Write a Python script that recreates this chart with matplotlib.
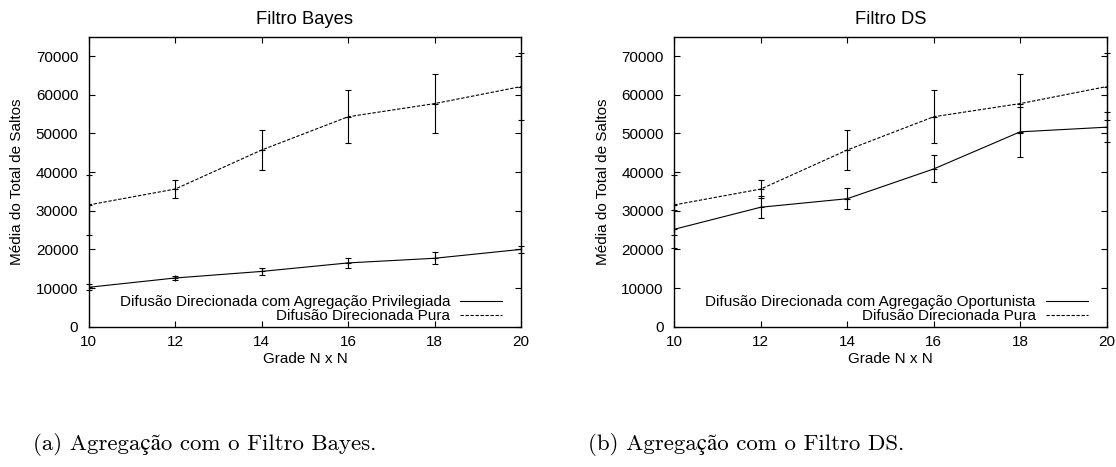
import matplotlib
matplotlib.use('Agg')
import matplotlib.pyplot as plt
from matplotlib.lines import Line2D

plt.rcParams['font.family'] = ['Liberation Sans', 'DejaVu Sans']
plt.rcParams['font.size'] = 11

# Dados
grade = [10, 12, 14, 16, 18, 20]

pura = [31500, 35600, 45700, 54300, 57700, 62100]
pura_err = [7800, 2400, 5300, 6800, 7600, 8600]

privilegiada = [10200, 12600, 14300, 16500, 17700, 20000]
privilegiada_err = [800, 600, 850, 1200, 1600, 900]

oportunista = [25200, 30900, 33100, 40800, 50400, 51600]
oportunista_err = [4900, 2800, 2650, 3500, 6400, 3900]

titles = ['Filtro Bayes', 'Filtro DS']
solid_labels = ['Difusão Direcionada com Agregação Privilegiada',
                'Difusão Direcionada com Agregação Oportunista']
pura_label = 'Difusão Direcionada Pura'
captions = ['(a) Agregação com o Filtro Bayes.', '(b) Agregação com o Filtro DS.']

fig = plt.figure(figsize=(11.16, 4.67), dpi=100)
ax1 = fig.add_axes([0.0795, 0.3004, 0.3874, 0.621])
ax2 = fig.add_axes([0.6042, 0.3004, 0.3874, 0.621])

dash = (0, (3, 1.5))
lw = 0.8

for ax, title, solid, solid_err, lab in [
        (ax1, titles[0], privilegiada, privilegiada_err, solid_labels[0]),
        (ax2, titles[1], oportunista, oportunista_err, solid_labels[1])]:
    e1 = ax.errorbar(grade, solid, yerr=solid_err, color='black', lw=lw,
                     elinewidth=lw, capsize=2.5, capthick=lw,
                     marker='+', ms=4, mew=lw)
    e2 = ax.errorbar(grade, pura, yerr=pura_err, color='black', lw=lw,
                     elinewidth=lw, capsize=2.5, capthick=lw,
                     marker='+', ms=4, mew=lw)
    e2.lines[0].set_linestyle(dash)
    for e in (e1, e2):
        for a in e.lines[1]:
            a.set_clip_on(False)
        for a in e.lines[2]:
            a.set_clip_on(False)

    ax.set_xlim(10, 20)
    ax.set_ylim(0, 75000)
    ax.set_xticks(grade)
    ax.set_yticks(range(0, 70001, 10000))
    ax.tick_params(direction='in', length=4, width=0.8, top=True, right=True)
    ax.tick_params(axis='x', pad=6)
    ax.tick_params(axis='y', pad=7.5)
    for s in ax.spines.values():
        s.set_linewidth(1.0)

    ax.set_title(title, pad=9)
    ax.set_xlabel('Grade N x N', labelpad=2)
    ax.set_ylabel('Média do Total de Saltos', labelpad=8.5)

    handles = [Line2D([], [], color='black', lw=lw),
               Line2D([], [], color='black', lw=lw, ls=dash)]
    ax.legend(handles, [lab, pura_label], loc='lower right',
              bbox_to_anchor=(0.956, 0.012), frameon=False, markerfirst=False,
              handlelength=2.75, handletextpad=0.65, labelspacing=0.0,
              borderpad=0, borderaxespad=0, fontsize=11)

serif = ['cmr10', 'STIXGeneral', 'DejaVu Serif']
fig.text(205 / 1116, 1 - 444 / 467, captions[0], ha='center', va='center',
         family=serif, fontsize=16.5)
fig.text(746 / 1116, 1 - 444 / 467, captions[1], ha='center', va='center',
         family=serif, fontsize=16.5)

fig.savefig('out.png', dpi=100)
